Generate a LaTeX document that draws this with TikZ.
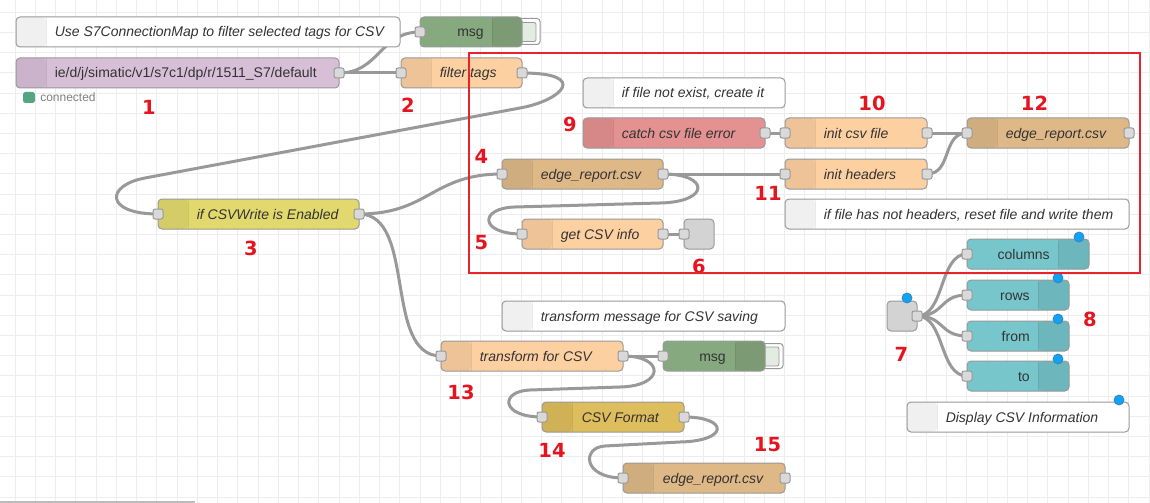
\documentclass[tikz,border=0pt]{standalone}
\usepackage{fontspec}
\setmainfont{Liberation Sans}
\newfontfamily\numfont{DejaVu Sans}
\pgfdeclarelayer{gridlayer}
\pgfdeclarelayer{wirelayer}
\pgfsetlayers{gridlayer,wirelayer,main}
\newdimen\pxu \pxu=0.75pt
\definecolor{nrborder}{HTML}{999999}
\definecolor{nrtext}{HTML}{333333}
\definecolor{gridc}{HTML}{EDEDED}
\definecolor{portfill}{HTML}{D9D9D9}
\definecolor{wirec}{HTML}{999999}
\definecolor{cpurple}{HTML}{D8BFD8}
\definecolor{cdebug}{HTML}{87A980}
\definecolor{corange}{HTML}{FDD0A2}
\definecolor{cswitch}{HTML}{E2D96E}
\definecolor{cfile}{HTML}{DEB887}
\definecolor{ccatch}{HTML}{E49191}
\definecolor{ccsv}{HTML}{DEBD5C}
\definecolor{cui}{HTML}{77C6CC}
\definecolor{cgray}{HTML}{D3D3D3}
\definecolor{numred}{HTML}{E6141E}
\definecolor{boxred}{HTML}{E8232B}
\definecolor{dotblue}{HTML}{0FA3F2}
\definecolor{dotborder}{HTML}{3A83C4}
\definecolor{statgreen}{HTML}{55A582}
\definecolor{btnfill}{HTML}{E3ECE1}
\definecolor{scrollc}{HTML}{BBBBBB}
\tikzset{
  nr/.style={draw=nrborder, line width=0.75pt, rounded corners=4\pxu, minimum height=30\pxu, inner sep=0pt, outer sep=0pt, anchor=north west},
  licon/.style={path picture={\fill[black,opacity=0.06] (path picture bounding box.north west) rectangle ([xshift=30\pxu]path picture bounding box.south west);
     \draw[black,opacity=0.08,line width=0.75pt] ([xshift=30\pxu]path picture bounding box.north west) -- ([xshift=30\pxu]path picture bounding box.south west);}},
  ricon/.style={path picture={\fill[black,opacity=0.08] ([xshift=-#1\pxu]path picture bounding box.north east) rectangle (path picture bounding box.south east);
     \draw[black,opacity=0.08,line width=0.75pt] ([xshift=-#1\pxu]path picture bounding box.north east) -- ([xshift=-#1\pxu]path picture bounding box.south east);}},
  port/.style={draw=nrborder, fill=portfill, line width=0.75pt, rounded corners=2\pxu, minimum size=10\pxu, inner sep=0pt, outer sep=0pt},
  wire/.style={draw=wirec, line width=3\pxu},
  lbl/.style={font=\fontsize{10.5pt}{12pt}\selectfont, text=nrtext, inner sep=0pt, anchor=base west},
  ilbl/.style={font=\fontsize{10.5pt}{12pt}\selectfont\itshape, text=nrtext, inner sep=0pt, anchor=base west},
  rlbl/.style={font=\fontsize{10.5pt}{12pt}\selectfont, text=nrtext, inner sep=0pt, anchor=base east},
  num/.style={font=\numfont\bfseries\fontsize{14.6pt}{16pt}\selectfont, text=numred, inner sep=0pt},
  bluedot/.style={circle, fill=dotblue, draw=dotborder, line width=0.6pt, minimum size=10\pxu, inner sep=0pt},
  btnouter/.style={draw=nrborder, fill=white, line width=0.75pt, rounded corners=3\pxu},
  btninner/.style={draw=nrborder, fill=btnfill, line width=0.6pt, rounded corners=2\pxu},
}
\begin{document}
\begin{tikzpicture}[x=0.75pt,y=-0.75pt]
\useasboundingbox (0,0) rectangle (1150,503);
\begin{pgfonlayer}{gridlayer}
\fill[white] (0,0) rectangle (1150,503);
\foreach \i in {0,...,56} \draw[gridc, line width=0.75pt] ({15+20.25*\i},0) -- ({15+20.25*\i},503);
\foreach \j in {0,...,24} \draw[gridc, line width=0.75pt] (0,{12.3+20.2*\j}) -- (1150,{12.3+20.2*\j});
\draw[scrollc, line width=1.2pt] (0,502) -- (195,502);
\end{pgfonlayer}

% ---------- top-left flow
\node[nr, fill=white, licon, minimum width=384\pxu] (c1) at (16,17) {};
\node[ilbl] (c1t) at ([xshift=38.5\pxu,yshift=-5\pxu]c1.west) {Use S7ConnectionMap to filter selected tags for CSV};

\node[nr, fill=cpurple, licon, minimum width=323\pxu] (n1) at (16,58) {};
\node[lbl] (n1t) at ([xshift=38.5\pxu,yshift=-5\pxu]n1.west) {ie/d/j/simatic/v1/s7c1/dp/r/1511\_S7/default};
\node[port] (n1o) at (n1.east) {};
\fill[statgreen, rounded corners=2.5\pxu] (23,92) rectangle (35,103);
\node[lbl, font=\fontsize{9pt}{10pt}\selectfont, text=gray] (st1) at (40,101.5) {connected};

\draw[btnouter] (510,18.5) rectangle (540,44.5);
\draw[btninner] (515,22.5) rectangle (536,41.5);
\node[nr, fill=cdebug, ricon=30, minimum width=102\pxu] (d1) at (420,17) {};
\node[rlbl] (d1t) at ([xshift=-38\pxu,yshift=-5\pxu]d1.east) {msg};
\node[port] (d1i) at (d1.west) {};

\node[nr, fill=corange, licon, minimum width=121\pxu] (n2) at (401,58) {};
\node[ilbl] (n2t) at ([xshift=38.5\pxu,yshift=-5\pxu]n2.west) {filter tags};
\node[port] (n2i) at (n2.west) {};
\node[port] (n2o) at (n2.east) {};

\node[nr, fill=cswitch, licon, minimum width=201\pxu] (n3) at (158,199) {};
\node[ilbl] (n3t) at ([xshift=38.5\pxu,yshift=-5\pxu]n3.west) {if CSVWrite is Enabled};
\node[port] (n3i) at (n3.west) {};
\node[port] (n3o) at (n3.east) {};

% ---------- framed group
\node[nr, fill=white, licon, minimum width=202\pxu] (c2) at (583,78) {};
\node[ilbl] (c2t) at ([xshift=38.5\pxu,yshift=-5\pxu]c2.west) {if file not exist, create it};

\node[nr, fill=ccatch, licon, minimum width=182\pxu] (n9) at (583,118) {};
\node[ilbl] (n9t) at ([xshift=38.5\pxu,yshift=-5\pxu]n9.west) {catch csv file error};
\node[port] (n9o) at (n9.east) {};

\node[nr, fill=corange, licon, minimum width=142\pxu] (n10) at (785,118) {};
\node[ilbl] (n10t) at ([xshift=38.5\pxu,yshift=-5\pxu]n10.west) {init csv file};
\node[port] (n10i) at (n10.west) {};
\node[port] (n10o) at (n10.east) {};

\node[nr, fill=cfile, licon, minimum width=162\pxu] (n12) at (967,118) {};
\node[ilbl] (n12t) at ([xshift=38.5\pxu,yshift=-5\pxu]n12.west) {edge\_report.csv};
\node[port] (n12i) at (n12.west) {};
\node[port] (n12o) at (n12.east) {};

\node[nr, fill=cfile, licon, minimum width=161\pxu] (n4) at (502,159) {};
\node[ilbl] (n4t) at ([xshift=38.5\pxu,yshift=-5\pxu]n4.west) {edge\_report.csv};
\node[port] (n4i) at (n4.west) {};
\node[port] (n4o) at (n4.east) {};

\node[nr, fill=corange, licon, minimum width=142\pxu] (n11) at (785,159) {};
\node[ilbl] (n11t) at ([xshift=38.5\pxu,yshift=-5\pxu]n11.west) {init headers};
\node[port] (n11i) at (n11.west) {};
\node[port] (n11o) at (n11.east) {};

\node[nr, fill=white, licon, minimum width=344\pxu] (c3) at (785,199) {};
\node[ilbl] (c3t) at ([xshift=38.5\pxu,yshift=-5\pxu]c3.west) {if file has not headers, reset file and write them};

\node[nr, fill=corange, licon, minimum width=141\pxu] (n5) at (522,219) {};
\node[ilbl] (n5t) at ([xshift=38.5\pxu,yshift=-5\pxu]n5.west) {get CSV info};
\node[port] (n5i) at (n5.west) {};
\node[port] (n5o) at (n5.east) {};

\node[nr, fill=cgray, minimum width=30\pxu] (n6) at (684,219) {};
\node[port] (n6i) at (n6.west) {};

% ---------- dashboard
\node[nr, fill=cui, ricon=31, minimum width=122\pxu] (u1) at (967,239) {};
\node[rlbl] (u1t) at ([xshift=-39\pxu,yshift=-5\pxu]u1.east) {columns};
\node[port] (u1i) at (u1.west) {};
\node[bluedot] (u1d) at (1079,237) {};

\node[nr, fill=cui, ricon=31, minimum width=102\pxu] (u2) at (967,280) {};
\node[rlbl] (u2t) at ([xshift=-39\pxu,yshift=-5\pxu]u2.east) {rows};
\node[port] (u2i) at (u2.west) {};
\node[bluedot] (u2d) at (1058,278) {};

\node[nr, fill=cui, ricon=31, minimum width=102\pxu] (u3) at (967,321) {};
\node[rlbl] (u3t) at ([xshift=-39\pxu,yshift=-5\pxu]u3.east) {from};
\node[port] (u3i) at (u3.west) {};
\node[bluedot] (u3d) at (1058,319) {};

\node[nr, fill=cui, ricon=31, minimum width=102\pxu] (u4) at (967,361) {};
\node[rlbl] (u4t) at ([xshift=-39\pxu,yshift=-5\pxu]u4.east) {to};
\node[port] (u4i) at (u4.west) {};
\node[bluedot] (u4d) at (1058,359) {};

\node[nr, fill=cgray, minimum width=30\pxu] (n7) at (887,301) {};
\node[port] (n7o) at (n7.east) {};
\node[bluedot] (n7d) at (907,298) {};

\node[nr, fill=white, licon, minimum width=222\pxu] (c4) at (907,402) {};
\node[ilbl] (c4t) at ([xshift=38.5\pxu,yshift=-5\pxu]c4.west) {Display CSV Information};
\node[bluedot] (c4d) at (1119,400) {};

% ---------- lower flow
\node[nr, fill=white, licon, minimum width=283\pxu] (c5) at (502,301) {};
\node[ilbl] (c5t) at ([xshift=38.5\pxu,yshift=-5\pxu]c5.west) {transform message for CSV saving};

\node[nr, fill=corange, licon, minimum width=182\pxu] (n13) at (441,341) {};
\node[ilbl] (n13t) at ([xshift=38.5\pxu,yshift=-5\pxu]n13.west) {transform for CSV};
\node[port] (n13i) at (n13.west) {};
\node[port] (n13o) at (n13.east) {};

\draw[btnouter] (753,343.5) rectangle (783,368.5);
\draw[btninner] (758,347) rectangle (779,366);
\node[nr, fill=cdebug, ricon=30, minimum width=102\pxu] (d2) at (663,341) {};
\node[rlbl] (d2t) at ([xshift=-39\pxu,yshift=-5\pxu]d2.east) {msg};
\node[port] (d2i) at (d2.west) {};

\node[nr, fill=ccsv, licon, minimum width=142\pxu] (n14) at (542,402) {};
\node[ilbl] (n14t) at ([xshift=39.5\pxu,yshift=-5\pxu]n14.west) {CSV Format};
\node[port] (n14i) at (n14.west) {};
\node[port] (n14o) at (n14.east) {};

\node[nr, fill=cfile, licon, minimum width=162\pxu] (n15) at (623,463) {};
\node[ilbl] (n15t) at ([xshift=39.5\pxu,yshift=-5\pxu]n15.west) {edge\_report.csv};
\node[port] (n15i) at (n15.west) {};
\node[port] (n15o) at (n15.east) {};

% ---------- wires
\begin{pgfonlayer}{wirelayer}
\draw[wire] (n1o.center) .. controls +(40,0) and +(-40,0) .. (d1i.center);
\draw[wire] (n1o.center) -- (n2i.center);
\draw[wire] (n2o.center) .. controls (590,73) and (562,100.5) .. (520,108) -- (145,178) .. controls (105,185.5) and (105,214) .. (n3i.center);
\draw[wire] (n3o.center) .. controls +(70,0) and +(-70,0) .. (n4i.center);
\draw[wire] (n3o.center) .. controls +(58,0) and +(-58,0) .. (n13i.center);
\draw[wire] (n4o.center) -- (n11i.center);
\draw[wire] (n4o.center) .. controls (710,174) and (710,202) .. (660,203) -- (515,207) .. controls (479,208) and (479,234) .. (n5i.center);
\draw[wire] (n5o.center) -- (n6i.center);
\draw[wire] (n9o.center) -- (n10i.center);
\draw[wire] (n10o.center) -- (n12i.center);
\draw[wire] (n11o.center) .. controls +(25,0) and +(-25,0) .. (n12i.center);
\draw[wire] (n7o.center) .. controls +(28,0) and +(-28,0) .. (u1i.center);
\draw[wire] (n7o.center) .. controls +(28,0) and +(-28,0) .. (u2i.center);
\draw[wire] (n7o.center) .. controls +(28,0) and +(-28,0) .. (u3i.center);
\draw[wire] (n7o.center) .. controls +(28,0) and +(-28,0) .. (u4i.center);
\draw[wire] (n13o.center) -- (d2i.center);
\draw[wire] (n13o.center) .. controls (665,356) and (665,386) .. (620,387) -- (530,390) .. controls (500,391) and (500,417) .. (n14i.center);
\draw[wire] (n14o.center) .. controls (729,417) and (729,441) .. (680,442) -- (605,446) .. controls (582,447) and (582,478) .. (n15i.center);
\end{pgfonlayer}

% ---------- numbers
\node[num] (k1) at (149,107.5) {1};
\node[num] (k2) at (408,105) {2};
\node[num] (k3) at (251,248.5) {3};
\node[num] (k4) at (481.5,156.5) {4};
\node[num] (k5) at (481.5,243) {5};
\node[num] (k6) at (699,266) {6};
\node[num] (k7) at (901.5,354) {7};
\node[num] (k8) at (1090,319) {8};
\node[num] (k9) at (570,124) {9};
\node[num] (k10) at (872,103.5) {10};
\node[num] (k11) at (768,193) {11};
\node[num] (k12) at (1034.5,103.5) {12};
\node[num] (k13) at (461,392) {13};
\node[num] (k14) at (552,450.5) {14};
\node[num] (k15) at (767.5,445) {15};

% ---------- red frame
\draw[boxred, line width=1.9pt] (469,53) rectangle (1140,273);
\end{tikzpicture}
\end{document}
